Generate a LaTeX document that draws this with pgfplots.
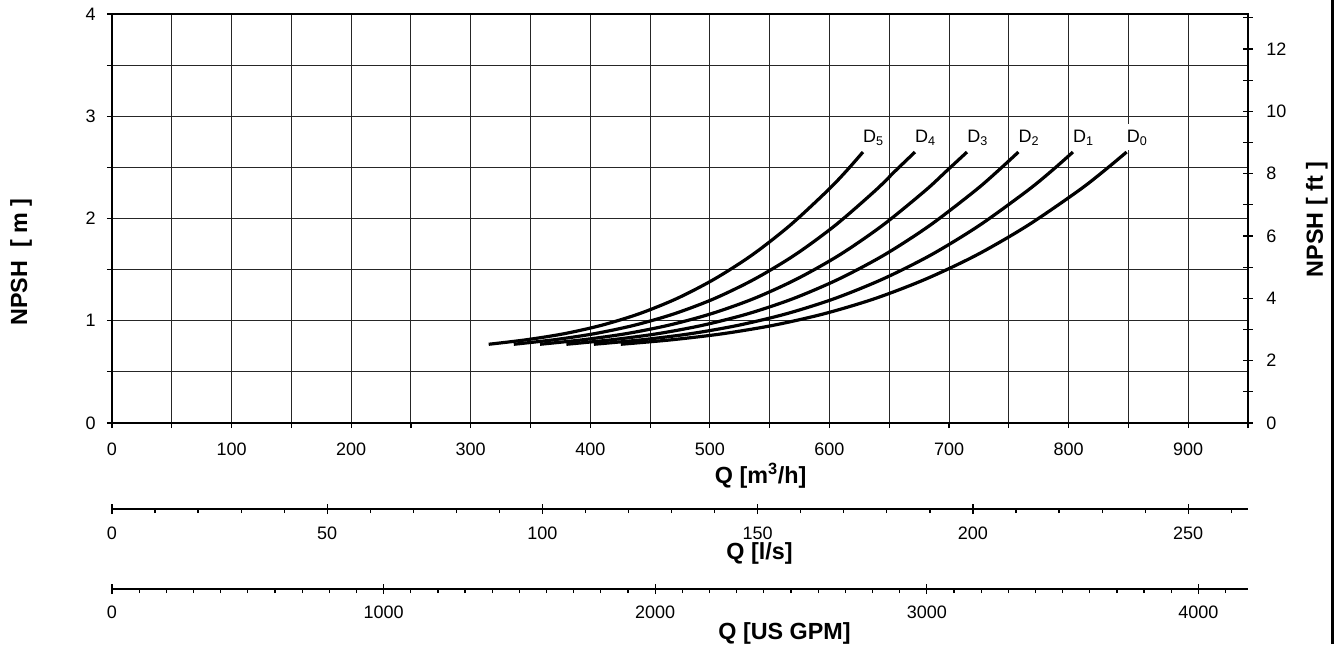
\documentclass[border=0pt]{standalone}
\usepackage{pgfplots}
\pgfplotsset{compat=1.18}
\usepackage{fontspec}
\setmainfont{Liberation Sans}
\newcommand{\tickfont}{\fontsize{13.5}{16}\selectfont}
\newcommand{\titlefont}{\fontsize{17.5}{20}\selectfont\bfseries}
\tikzset{lab/.style={fill=white, anchor=south west, inner xsep=3pt, inner ysep=3.5pt,
    text height=11pt, text depth=2pt, xshift=-3pt, font=\tickfont}}
\begin{document}
\begin{tikzpicture}
\useasboundingbox (-84pt,-165.75pt) rectangle (923.25pt,317.25pt);
\pgfplotsset{
  base/.style={at={(0pt,0pt)}, anchor=south west, scale only axis, width=852pt,
    /pgf/number format/assume math mode=true, /pgf/number format/1000 sep={},
    tick label style={font=\tickfont, text=black},
    every tick/.append style={black, line width=0.9pt}}
}
% main axis (m3/h, m)
\begin{axis}[base, height=306.75pt,
  xmin=0, xmax=950, ymin=0, ymax=4,
  xtick={0,100,...,1000}, minor x tick num=1,
  ytick={0,1,2,3,4}, minor y tick num=1,
  xtick pos=left, ytick pos=left,
  tick align=outside, major tick length=3.75pt, minor tick length=3.75pt,
  xticklabel style={yshift=-7.5pt},
  yticklabel style={xshift=-5pt},
  grid=both,
  major grid style={black!85, line width=0.75pt},
  minor grid style={black!85, line width=0.75pt},
  axis line style={black, line width=1.6pt},
  xlabel={Q [m\textsuperscript{3}/h]},
  xlabel style={font=\titlefont, at={(axis description cs:0.571,0)}, anchor=base, yshift=-45pt},
  ylabel={NPSH\ \ [ m ]},
  ylabel style={font=\titlefont, at={(axis description cs:-0.0801,0.3936)}, anchor=center},
]
\addplot[black, line width=2.4pt, smooth] coordinates {(315,0.770) (346.5,0.814) (378,0.873) (409.5,0.956) (441,1.069) (472.5,1.218) (504,1.409) (535.5,1.645) (567,1.933) (598.5,2.274) (614.3,2.467) (628,2.650)};
\addplot[black, line width=2.4pt, smooth] coordinates {(336,0.770) (369.6,0.814) (403.2,0.873) (436.8,0.956) (470.4,1.069) (504,1.218) (537.6,1.409) (571.2,1.645) (604.8,1.933) (638.4,2.274) (655.2,2.467) (671.5,2.650)};
\addplot[black, line width=2.4pt, smooth] coordinates {(358,0.770) (393.8,0.814) (429.6,0.873) (465.4,0.956) (501.2,1.069) (537,1.218) (572.8,1.409) (608.6,1.645) (644.4,1.933) (680.2,2.274) (698.1,2.467) (715,2.650)};
\addplot[black, line width=2.4pt, smooth] coordinates {(380,0.770) (418,0.814) (456,0.873) (494,0.956) (532,1.069) (570,1.218) (608,1.409) (646,1.645) (684,1.933) (722,2.274) (741,2.467) (758,2.650)};
\addplot[black, line width=2.4pt, smooth] coordinates {(403,0.770) (443.3,0.814) (483.6,0.873) (523.9,0.956) (564.2,1.069) (604.5,1.218) (644.8,1.409) (685.1,1.645) (725.4,1.933) (765.7,2.274) (785.9,2.467) (803.6,2.650)};
\addplot[black, line width=2.4pt, smooth] coordinates {(425.5,0.770) (468.1,0.814) (510.6,0.873) (553.2,0.956) (595.7,1.069) (638.3,1.218) (680.8,1.409) (723.4,1.645) (765.9,1.933) (808.5,2.274) (829.7,2.467) (848.5,2.650)};
\node[lab] at (axis cs:628,2.665) {D\textsubscript{5}};
\node[lab] at (axis cs:671.5,2.665) {D\textsubscript{4}};
\node[lab] at (axis cs:715,2.665) {D\textsubscript{3}};
\node[lab] at (axis cs:758,2.665) {D\textsubscript{2}};
\node[lab] at (axis cs:803.6,2.665) {D\textsubscript{1}};
\node[lab] at (axis cs:848.5,2.665) {D\textsubscript{0}};
\end{axis}
% right axis (ft)
\begin{axis}[base, height=306.75pt,
  xmin=0, xmax=950, ymin=0, ymax=13.12336,
  hide x axis, axis y line*=right,
  ytick={0,2,...,14}, minor y tick num=1,
  tick align=center, major tick length=7pt, minor tick length=7pt,
  yticklabel style={xshift=6.75pt},
  axis line style={black, line width=1.6pt},
  ylabel={NPSH [ ft ]},
  ylabel style={font=\titlefont, at={(axis description cs:1.0605,0.4975)}, anchor=center},
]
\end{axis}
% l/s axis: minor ticks
\begin{axis}[base, at={(0pt,-64.5pt)}, height=20pt,
  xmin=0, xmax=263.8889, ymin=0, ymax=1,
  hide y axis, axis x line*=bottom,
  xtick={0,10,...,300}, xticklabel=\empty,
  tick align=outside, major tick length=3pt,
  axis line style={black, line width=1.5pt},
]
\end{axis}
% l/s axis: major ticks
\begin{axis}[base, at={(0pt,-64.5pt)}, height=20pt,
  xmin=0, xmax=263.8889, ymin=0, ymax=1,
  hide y axis, axis x line*=bottom,
  xtick={0,50,...,250},
  tick align=center, major tick length=7.5pt,
  xticklabel style={yshift=-6pt},
  axis line style={black, line width=1.5pt},
  xlabel={Q [l/s]},
  xlabel style={font=\titlefont, at={(axis description cs:0.570,0)}, anchor=base, yshift=-37.5pt},
]
\end{axis}
% GPM axis: minor ticks
\begin{axis}[base, at={(0pt,-124.5pt)}, height=20pt,
  xmin=0, xmax=4182.72, ymin=0, ymax=1,
  hide y axis, axis x line*=bottom,
  xtick={0,100,...,4200}, xticklabel=\empty,
  tick align=outside, major tick length=3pt,
  axis line style={black, line width=1.5pt},
]
\end{axis}
% GPM axis: major ticks
\begin{axis}[base, at={(0pt,-124.5pt)}, height=20pt,
  xmin=0, xmax=4182.72, ymin=0, ymax=1,
  hide y axis, axis x line*=bottom,
  xtick={0,1000,...,4000},
  tick align=center, major tick length=7.5pt,
  xticklabel style={yshift=-5.25pt},
  axis line style={black, line width=1.5pt},
  xlabel={Q [US GPM]},
  xlabel style={font=\titlefont, at={(axis description cs:0.592,0)}, anchor=base, yshift=-37.5pt},
]
\end{axis}
\draw[line width=2.25pt] (915pt,-165.75pt) -- (915pt,317.25pt);
\end{tikzpicture}
\end{document}
